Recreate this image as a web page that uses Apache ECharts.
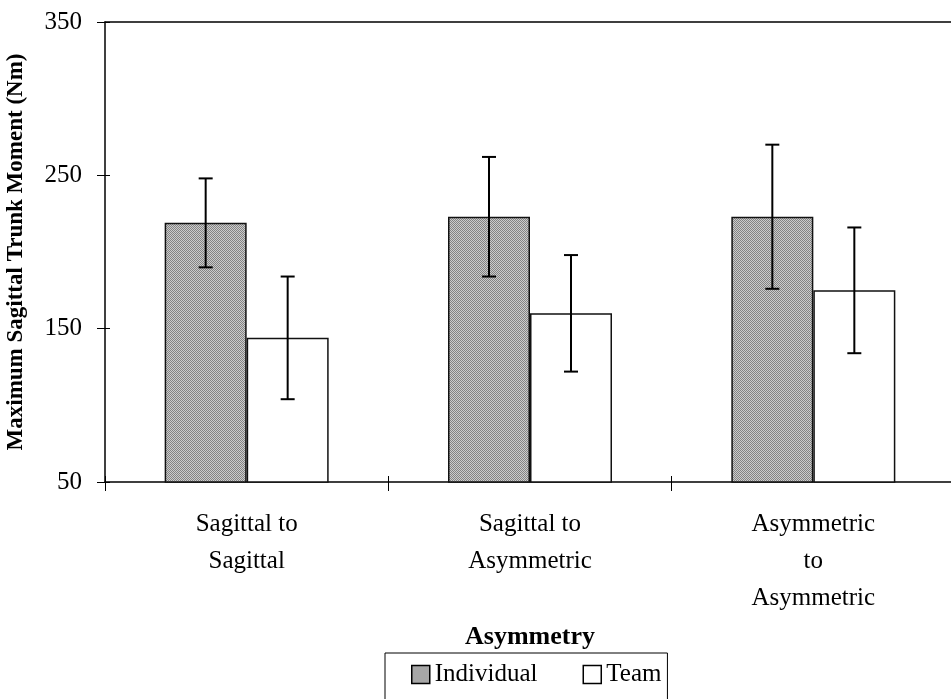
<!DOCTYPE html>
<html>
<head>
<meta charset="utf-8">
<script src="https://cdn.jsdelivr.net/npm/echarts@6/dist/echarts.min.js"></script>
<style>
html,body{margin:0;padding:0;background:#fff;}
#chart{width:951px;height:699px;}
</style>
</head>
<body>
<div id="chart"></div>
<script>
const categories = ['Sagittal to\nSagittal', 'Sagittal to\nAsymmetric', 'Asymmetric\nto\nAsymmetric'];
const individual = [219, 223, 223];
const individualErr = [29, 39, 47];
const team = [144, 160, 175];
const teamErr = [40, 38, 41];
const yTicks = [50, 150, 250, 350];

const FONT = 'Liberation Serif';
const BAR_W = 82;

// dotted grey fill pattern
const pc = document.createElement('canvas');
pc.width = 2; pc.height = 2;
const pctx = pc.getContext('2d');
pctx.fillStyle = '#cccccc'; pctx.fillRect(0,0,2,2);
pctx.fillStyle = '#838383'; pctx.fillRect(0,0,1,1); pctx.fillRect(1,1,1,1);
const greyPattern = {image: pc, repeat: 'repeat'};

function errRender(offset) {
  return function (params, api) {
    const x = api.value(0), m = api.value(1), e = api.value(2);
    const top = api.coord([x, m + e]);
    const bot = api.coord([x, m - e]);
    const px = top[0] + offset;
    const st = {stroke: '#000', lineWidth: 2};
    return {
      type: 'group',
      children: [
        {type: 'line', shape: {x1: px, y1: top[1], x2: px, y2: bot[1]}, style: st},
        {type: 'line', shape: {x1: px - 7, y1: top[1], x2: px + 7, y2: top[1]}, style: st},
        {type: 'line', shape: {x1: px - 7, y1: bot[1], x2: px + 7, y2: bot[1]}, style: st}
      ]
    };
  };
}

const chart = echarts.init(document.getElementById('chart'));
chart.setOption({
  animation: false,
  backgroundColor: '#fff',
  grid: {left: 105, right: -4, top: 22, bottom: 217, containLabel: false, outerBoundsMode: 'none'},
  legend: {
    left: 385, top: 653,
    orient: 'horizontal',
    padding: [9, 6, 30, 26],
    borderColor: '#000', borderWidth: 1,
    itemWidth: 18, itemHeight: 18, itemGap: 45,
    icon: 'rect',
    textStyle: {fontFamily: FONT, fontSize: 25, color: '#000'},
    data: [
      {name: 'Individual', itemStyle: {color: greyPattern, borderColor: '#000', borderWidth: 1.5}},
      {name: 'Team', itemStyle: {color: '#fff', borderColor: '#000', borderWidth: 1.5}}
    ]
  },
  xAxis: [
    {
      type: 'category', position: 'bottom', data: categories,
      name: 'Asymmetry', nameLocation: 'middle', nameGap: 142,
      nameTextStyle: {fontFamily: FONT, fontSize: 26, fontWeight: 'bold', color: '#000'},
      axisLine: {lineStyle: {color: '#000', width: 1.5}},
      axisTick: {show: true, length: 9, lineStyle: {color: '#000', width: 1}},
      axisLabel: {fontFamily: FONT, fontSize: 25, color: '#000', lineHeight: 37, margin: 24, interval: 0}
    },
    {
      type: 'category', position: 'bottom', data: categories,
      axisLine: {show: false},
      axisTick: {show: true, inside: true, length: 6, lineStyle: {color: '#000', width: 1}},
      axisLabel: {show: false}
    },
    {
      type: 'category', position: 'top', data: categories,
      axisLine: {show: true, lineStyle: {color: '#000', width: 1.5}},
      axisTick: {show: false},
      axisLabel: {show: false}
    }
  ],
  yAxis: [
    {
      type: 'value', position: 'left', min: yTicks[0], max: yTicks[yTicks.length - 1], interval: 100,
      name: 'Maximum Sagittal Trunk Moment (Nm)', nameLocation: 'middle', nameGap: 77,
      nameTextStyle: {fontFamily: FONT, fontSize: 23, fontWeight: 'bold', color: '#000'},
      axisLine: {show: true, lineStyle: {color: '#000', width: 1.5}},
      axisTick: {show: true, length: 8, lineStyle: {color: '#000', width: 1}},
      axisLabel: {fontFamily: FONT, fontSize: 25, color: '#000', margin: 23},
      splitLine: {show: false}
    },
    {
      type: 'value', position: 'left', min: yTicks[0], max: yTicks[yTicks.length - 1], interval: 100,
      axisLine: {show: false},
      axisTick: {show: true, inside: true, length: 5, lineStyle: {color: '#000', width: 1}},
      axisLabel: {show: false},
      splitLine: {show: false}
    }
  ],
  series: [
    {
      name: 'Individual', type: 'bar', data: individual, barWidth: BAR_W, barGap: '0%',
      itemStyle: {color: greyPattern, borderColor: '#111', borderWidth: 1.5}
    },
    {
      name: 'Team', type: 'bar', data: team, barWidth: BAR_W, barGap: '0%',
      itemStyle: {color: '#fff', borderColor: '#111', borderWidth: 1.5}
    },
    {
      name: 'IndividualErr', type: 'custom', z: 10,
      renderItem: errRender(-BAR_W / 2),
      encode: {x: 0, y: 1},
      data: individual.map((v, i) => [i, v, individualErr[i]])
    },
    {
      name: 'TeamErr', type: 'custom', z: 10,
      renderItem: errRender(BAR_W / 2),
      encode: {x: 0, y: 1},
      data: team.map((v, i) => [i, v, teamErr[i]])
    }
  ]
});
</script>
</body>
</html>
